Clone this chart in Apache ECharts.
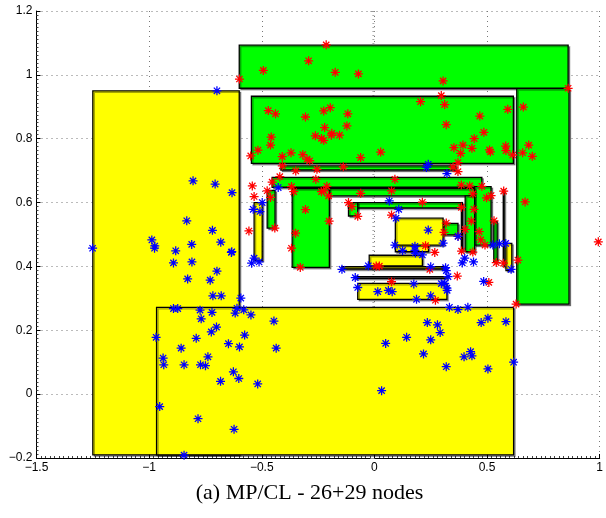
<!DOCTYPE html>
<html>
<head>
<meta charset="utf-8">
<script src="https://cdn.jsdelivr.net/npm/echarts@6/dist/echarts.min.js"></script>
<style>
html,body{margin:0;padding:0;background:#fff;}
#c{width:606px;height:518px;}
</style>
</head>
<body>
<div id="c"></div>
<script>
// ---- data ----
const xTicks = [-1.5, -1, -0.5, 0, 0.5, 1];
const yTicks = [-0.2, 0, 0.2, 0.4, 0.6, 0.8, 1, 1.2];
const caption = '(a) MP/CL - 26+29 nodes';

// rectangles: [x0, y0, x1, y1]
const yellowLarge = [
  [-1.25, -0.19, -0.6, 0.95],
  [-0.967, -0.19, 0.618, 0.272]
];
const greenLarge = [
  [-0.6, 0.958, 0.86, 1.093],
  [0.632, 0.282, 0.864, 0.957],
  [-0.546, 0.7225, 0.617, 0.933]
];
const greenCenter = [
  [-0.415, 0.702, 0.362, 0.715],
  [-0.454, 0.648, 0.477, 0.679],
  [0.445, 0.467, 0.518, 0.650],
  [-0.365, 0.621, 0.445, 0.644],
  [-0.365, 0.397, -0.2, 0.644],
  [0.403, 0.446, 0.445, 0.621],
  [-0.476, 0.52, -0.441, 0.638],
  [-0.115, 0.583, 0.386, 0.600],
  [-0.115, 0.558, -0.074, 0.600],
  [0.305, 0.499, 0.371, 0.535],
  [0.386, 0.45, 0.391, 0.60],
  [0.530, 0.415, 0.545, 0.540],
  [0.572, 0.40, 0.576, 0.64]
];
const yellowCenter = [
  [-0.534, 0.419, -0.498, 0.600],
  [0.093, 0.446, 0.24, 0.483],
  [0.093, 0.467, 0.305, 0.551],
  [0.584, 0.387, 0.610, 0.472],
  [-0.023, 0.402, 0.213, 0.435],
  [-0.144, 0.392, 0.319, 0.399],
  [-0.074, 0.297, 0.322, 0.347]
];
const outlineRects = [
  [-0.088, 0.363, 0.322, 0.368]
];

const redPoints = [
  [-0.214,1.094],[-0.599,0.987],[-0.493,1.014],[-0.292,1.044],[-0.174,1.008],[-0.071,1.003],
  [0.305,0.981],[0.860,0.958],[0.297,0.935],[0.312,0.907],[0.205,0.916],[-0.471,0.888],
  [-0.439,0.878],[-0.306,0.868],[-0.225,0.887],[-0.196,0.897],[-0.118,0.878],[-0.221,0.835],
  [-0.122,0.840],[-0.262,0.809],[-0.235,0.801],[-0.225,0.795],[-0.191,0.811],[-0.189,0.817],
  [-0.155,0.811],[-0.458,0.805],[-0.461,0.780],[-0.549,0.746],[-0.517,0.764],[-0.409,0.744],
  [-0.370,0.756],[-0.318,0.750],[-0.299,0.736],[-0.287,0.731],[-0.061,0.741],[0.028,0.758],
  [0.468,0.871],[0.592,0.892],[0.661,0.899],[0.486,0.820],[0.443,0.800],[0.319,0.844],
  [0.353,0.772],[0.393,0.780],[0.383,0.754],[0.433,0.770],[0.511,0.765],[0.515,0.759],
  [0.583,0.777],[0.584,0.763],[0.614,0.749],[0.658,0.756],[0.685,0.780],[0.701,0.745],
  [-0.409,0.715],[-0.349,0.699],[-0.255,0.704],[-0.138,0.712],[0.349,0.711],[0.371,0.725],
  [0.371,0.697],[-0.420,0.681],[-0.454,0.664],[-0.542,0.652],[-0.260,0.673],[-0.211,0.651],
  [-0.225,0.637],[-0.203,0.621],[-0.235,0.634],[-0.368,0.650],[-0.358,0.634],[-0.476,0.637],
  [-0.534,0.619],[-0.461,0.616],[-0.061,0.629],[0.091,0.673],[0.076,0.637],[0.386,0.655],
  [0.423,0.652],[0.477,0.651],[0.437,0.627],[0.498,0.615],[0.518,0.622],[0.574,0.636],
  [0.669,0.602],[-0.115,0.600],[-0.100,0.587],[-0.074,0.557],[-0.306,0.578],[-0.201,0.542],
  [-0.442,0.520],[-0.557,0.511],[-0.350,0.504],[0.213,0.601],[0.386,0.585],[0.442,0.579],
  [0.076,0.561],[0.430,0.542],[0.531,0.543],[0.319,0.536],[0.403,0.516],[0.309,0.507],
  [0.465,0.509],[0.372,0.495],[0.472,0.483],[0.491,0.467],[0.227,0.465],[0.268,0.444],
  [0.387,0.448],[0.437,0.445],[0.541,0.412],[0.573,0.410],[0.637,0.420],[0.246,0.391],
  [0.368,0.370],[0.076,0.352],[0.508,0.350],[0.271,0.294],[0.629,0.282],[-0.368,0.457],
  [-0.329,0.397],[0.008,0.401],[0.022,0.401],[0.994,0.477]
];
const bluePoints = [
  [-1.251,0.457],[-0.833,0.543],[-0.719,0.513],[-0.988,0.483],[-0.975,0.464],[-0.976,0.457],
  [-0.811,0.469],[-0.682,0.476],[-0.882,0.449],[-0.635,0.444],[-0.892,0.411],[-0.810,0.414],
  [-0.699,0.385],[-0.829,0.361],[-0.729,0.357],[-0.717,0.308],[-0.680,0.308],[-0.593,0.301],
  [-0.892,0.268],[-0.873,0.268],[-0.774,0.263],[-0.721,0.256],[-0.618,0.254],[-0.610,0.269],
  [-0.580,0.264],[-0.548,0.248],[-0.769,0.236],[-0.446,0.229],[-0.701,0.210],[-0.724,0.195],
  [-0.969,0.178],[-0.791,0.175],[-0.576,0.185],[-0.858,0.144],[-0.648,0.158],[-0.599,0.148],
  [-0.436,0.144],[-0.938,0.113],[-0.935,0.092],[-0.739,0.117],[-0.845,0.092],[-0.772,0.092],
  [-0.750,0.089],[-0.626,0.070],[-0.602,0.049],[-0.683,0.040],[-0.518,0.032],[-0.953,-0.039],
  [-0.783,-0.077],[-0.623,-0.110],[-0.845,-0.191],[-0.699,0.950],[-0.805,0.668],[-0.707,0.658],
  [-0.632,0.631],[-0.427,0.647],[-0.498,0.600],[-0.538,0.579],[-0.508,0.572],[-0.534,0.426],
  [-0.545,0.410],[-0.512,0.414],[-0.633,0.446],[0.239,0.720],[0.231,0.710],[0.322,0.691],
  [0.066,0.605],[0.108,0.579],[0.096,0.551],[0.239,0.514],[0.371,0.494],[0.091,0.467],
  [0.125,0.450],[0.180,0.463],[0.180,0.450],[0.182,0.442],[0.213,0.436],[0.305,0.473],
  [0.401,0.426],[0.390,0.411],[0.440,0.414],[0.526,0.467],[0.555,0.471],[0.583,0.472],
  [0.607,0.391],[-0.144,0.391],[-0.027,0.402],[0.250,0.399],[0.316,0.396],[0.319,0.387],
  [-0.085,0.365],[0.327,0.368],[-0.074,0.334],[0.175,0.345],[0.015,0.321],[0.062,0.325],
  [0.079,0.321],[0.297,0.346],[0.312,0.347],[0.322,0.332],[0.323,0.325],[0.187,0.297],
  [0.250,0.308],[0.485,0.353],[0.333,0.272],[0.371,0.265],[0.415,0.272],[0.235,0.224],
  [0.280,0.217],[0.292,0.193],[0.474,0.224],[0.504,0.238],[0.584,0.227],[0.050,0.159],
  [0.143,0.178],[0.250,0.170],[0.218,0.126],[0.319,0.086],[0.427,0.133],[0.433,0.120],
  [0.398,0.117],[0.504,0.079],[0.618,0.100],[0.032,0.011]
];

// ---- chart ----
const chart = echarts.init(document.getElementById('c'), null, {renderer: 'canvas'});
const star = 'path://M0 8.6L20 8.6L20 11.4L0 11.4Z M8.6 0L11.4 0L11.4 20L8.6 20Z ' +
  'M2 4L4 2L18 16L16 18Z M16 2L18 4L4 18L2 16Z';

function rectSeries(data, fill, name) {
  return {
    type: 'custom', name: name, data: data, clip: false,
    renderItem: function (params, api) {
      const a = api.coord([api.value(0), api.value(3)]);
      const b = api.coord([api.value(2), api.value(1)]);
      return {
        type: 'rect',
        shape: {x: a[0], y: a[1], width: b[0] - a[0], height: b[1] - a[1]},
        style: {fill: fill, stroke: '#000', lineWidth: 1.3,
          shadowColor: 'rgba(0,0,0,0.35)', shadowOffsetX: 1.5, shadowOffsetY: 1.5, shadowBlur: 0.5}
      };
    },
    encode: {x: [0, 2], y: [1, 3]},
    silent: true, animation: false
  };
}
function fmt(v) {
  const s = String(Math.round(v * 10) / 10);
  return s.replace('-', '\u2212');
}
const font = "'Liberation Sans', Arial, sans-serif";

chart.setOption({
  animation: false,
  backgroundColor: '#fff',
  grid: {left: 36.5, right: 3, top: 11, bottom: 60, containLabel: false},
  xAxis: [{
    type: 'value', min: xTicks[0], max: xTicks[xTicks.length - 1], interval: 0.5,
    axisLine: {show: true, onZero: false, lineStyle: {color: '#000', width: 1}},
    axisTick: {show: true, inside: true, length: 4, lineStyle: {color: '#000'}},
    minorTick: {show: true, splitNumber: 25, length: 2, lineStyle: {color: '#444'}},
    axisLabel: {formatter: fmt, color: '#000', fontSize: 12, fontFamily: font, margin: 4},
    splitLine: {show: true, lineStyle: {color: '#777', type: [1, 4], width: 1}}
  }],
  yAxis: [{
    type: 'value', min: yTicks[0], max: yTicks[yTicks.length - 1], interval: 0.2,
    axisLine: {show: true, onZero: false, lineStyle: {color: '#000', width: 1}},
    axisTick: {show: true, inside: true, length: 4, lineStyle: {color: '#000'}},
    minorTick: {show: true, splitNumber: 16, length: 2, lineStyle: {color: '#444'}},
    axisLabel: {formatter: fmt, color: '#000', fontSize: 12, fontFamily: font, margin: 4},
    splitLine: {show: true, lineStyle: {color: '#777', type: [1, 4], width: 1}}
  }, {
    type: 'value', position: 'right', min: yTicks[0], max: yTicks[yTicks.length - 1], interval: 0.2,
    axisLine: {show: false},
    axisTick: {show: true, inside: true, length: 4, lineStyle: {color: '#999'}},
    minorTick: {show: true, splitNumber: 16, length: 2, lineStyle: {color: '#aaa'}},
    axisLabel: {show: false}, splitLine: {show: false}
  }],
  series: [
    rectSeries(yellowLarge, '#ffff00', 'yl'),
    rectSeries(greenLarge, '#00ff00', 'gl'),
    rectSeries(greenCenter, '#00ff00', 'gc'),
    rectSeries(yellowCenter, '#ffff00', 'yc'),
    rectSeries(outlineRects, '#ffffff', 'or'),
    {
      type: 'scatter', name: 'red', data: redPoints, symbol: star, symbolSize: 9,
      itemStyle: {color: '#ff0000', opacity: 1}, silent: true, animation: false, clip: false, z: 5
    },
    {
      type: 'scatter', name: 'blue', data: bluePoints, symbol: star, symbolSize: 9,
      itemStyle: {color: '#0000ff', opacity: 1}, silent: true, animation: false, clip: false, z: 5
    }
  ],
  graphic: [{
    type: 'text', x: 309.5, y: 493,
    style: {text: caption, font: "22px 'Liberation Serif', 'Times New Roman', serif", fill: '#000',
      textAlign: 'center', textVerticalAlign: 'middle'}
  }]
});
</script>
</body>
</html>
